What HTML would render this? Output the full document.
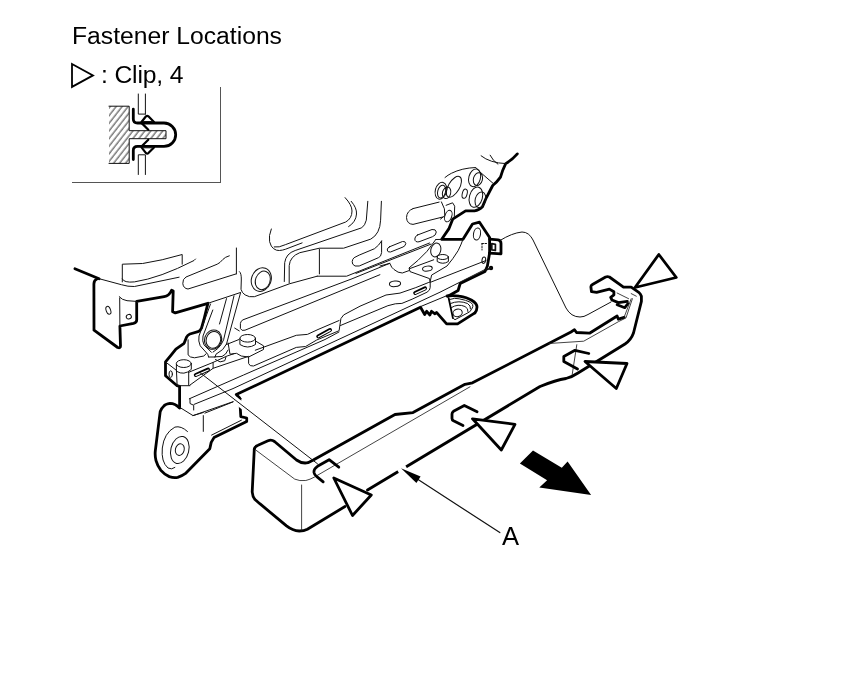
<!DOCTYPE html>
<html><head><meta charset="utf-8">
<style>
html,body{margin:0;padding:0;background:#fff;}
body{width:860px;height:696px;overflow:hidden;position:relative;font-family:"Liberation Sans",sans-serif;color:#000;}
svg{position:absolute;left:0;top:0;}
.t{position:absolute;white-space:nowrap;will-change:transform;font-size:24.7px;line-height:24px;}
.K{fill:none;stroke:#000;stroke-width:2.8;stroke-linejoin:round;stroke-linecap:round;}
.n{fill:none;stroke:#111;stroke-width:1;stroke-linejoin:round;stroke-linecap:round;}
.c{stroke-width:0.85;stroke:#222;}
.g{fill:none;stroke:#555;stroke-width:1;shape-rendering:crispEdges;}
</style></head><body>
<div class="t" id="t1" style="left:72px;top:24px;">Fastener Locations</div>
<div class="t" id="t2" style="left:101px;top:63px;letter-spacing:-0.15px;">: Clip, 4</div>
<div class="t" id="t3" style="left:501.8px;top:524px;font-size:25.6px;">A</div>
<svg width="860" height="696" viewBox="0 0 860 696">
<!-- LEGEND -->
<g id="legend">
<path class="g" d="M220.5 87V182.5H71.5"/>
<path d="M72 64L93 75.4L72 86.9Z" fill="none" stroke="#000" stroke-width="1.8" stroke-linejoin="miter"/>
<defs><pattern id="h" width="8" height="4.7" patternUnits="userSpaceOnUse" patternTransform="rotate(-52)"><line x1="-1" y1="2" x2="9" y2="2" stroke="#1a1a1a" stroke-width="0.9"/></pattern></defs>
<path d="M109 106.2H129.2V130.7H166V138.7H129.2V163.4H109Z" fill="url(#h)" stroke="none"/>
<path class="n" d="M109 106.2H129.2V130.7H166V138.7H129.2V163.4H109"/>
<path class="n" d="M138.3 94V114.1H145.4M145.4 94V114.1M138.3 174.5V154.8H145.4V174.5"/>
<path class="K" d="M133.3 109.2V119Q133.3 123 137.5 123H164A11.7 11.7 0 0 1 164 146.4H137.5Q133.3 146.4 133.3 150.5V159.6"/>
<path class="K" style="stroke-width:2.2" d="M141.5 122L146 116.3Q147.2 115.3 148.4 116.3L154 122M141.5 147.4L146 153.1Q147.2 154.1 148.4 153.1L154 147.4M141.7 123.1L148.3 129.7M141.7 146.3L148.3 139.7"/>
<path class="n" d="M143.5 121.5H152.5M143.5 147.8H152.5"/>
</g>
<!-- MAIN -->
<g id="main">


<!-- seat frame thick -->
<path class="K" d="M74.9 268.8L99.1 278.7"/>
<path class="K" d="M97 279Q94 280 93.9 284L94 330.2L117.7 347.5Q120.5 348.5 120.5 346L119.9 326L133.5 323.3Q136.7 322.5 136.7 320V301.4L164.2 296.7Q169 296 171.6 290.2L173.2 291L172.6 311.8L175.3 312.9L207.9 303.3L203.8 320L201.5 328.1Q200 331 198 331.6L189.9 334Q187.5 335 186.4 337.4L184.1 343.3L175.9 349.1L171.3 354.9L165.5 361.9V375.8L177.1 385.7L179.6 386.3V407.5"/>
<path class="K" d="M179.6 408Q175 403.5 170 403.4Q165.5 404 163.7 406.2Q161 408.5 160.2 411.7L155.3 450.8Q154.8 456 156 460.6Q157.5 466 160.9 470.3Q164.5 474.5 169.3 476.6Q173.5 478 177.7 477.3Q182 476 186 473.1L209.8 448.7L211.2 442.4L214 437.6L246.7 421.5V418L240.8 416.6L239.7 398L236.3 394.6L420.5 307.2L424.7 314.5L426.7 311.3L429.9 315L431.5 311.3L435 313.8L436.5 312.4L446.6 323.9H457.6L474.9 312.9"/>
<path class="K" d="M517.3 153.9Q512 160 505.7 163.6Q502.5 170 500.5 177.1Q497 182 492.7 185.5L486.3 197.8L482.4 206.9Q479 210.5 474.6 210.8H465.6L452.7 219.2L448.8 228.9L441.7 239.3H463L472.5 224L479.5 222.2L489.6 237.5V253.3"/>
<path class="K" d="M489.6 239.2L498 239.9Q501 240.5 501 243.5V253.8L489.6 253.2"/>
<path class="K" d="M489.6 253L487.4 266L485 271.5L460.2 283.5L458.1 290.5L448 296.3"/>
<circle cx="491" cy="268" r="2.2" fill="#000"/><path class="n" d="M486 270L491 268" style="stroke-width:1.6"/>
<path class="K" d="M447.1 296Q453 295 459.2 296.2Q467 297.5 471.7 300.3Q477 303.5 477 307.1Q477 310.5 474.9 312.9"/>
<path class="K" style="stroke-width:1.8" d="M448.7 298.3L452.9 318.1"/>

<!-- seat frame thin: left bracket area -->
<g class="n">
<path d="M122.3 281.9V264.2L142.6 263.5Q162 260.5 182.2 254.5V264.2"/>
<path d="M122.3 279Q124 283 134.4 281.9Q160 278 194 260.5L195.5 259"/>
<path d="M99.1 278.7L121.4 284.7Q128 286.8 134.4 286.5L179.1 277.2"/>
<path d="M119.2 296.7Q122 300 127 300.7L136.7 301.4M119.7 298L119.9 326"/>
<ellipse cx="108.4" cy="310.3" rx="2.2" ry="4.1" transform="rotate(-20 108.4 310.3)"/>
<ellipse cx="128.8" cy="316.7" rx="2.6" ry="2.2" transform="rotate(-20 128.8 316.7)"/>
<!-- slot bar -->
<path d="M229.3 255.8Q225 257 222.8 259.5Q220 263 217.2 264.2L186 277Q182.5 279 182.8 283.7Q183.5 288.5 188 289L235.8 274"/>
<path d="M236.4 248V274"/>
<path d="M239.5 271.6Q241.5 273 241.3 280L241 289.3Q242 293 245.1 294.9Q249 297.5 254.4 296.7L289.8 283.7L317.2 276.2"/>
<ellipse cx="261.3" cy="279.6" rx="9.8" ry="12" transform="rotate(20 261.3 279.6)"/>
<ellipse cx="262.8" cy="280.4" rx="7.3" ry="9.5" transform="rotate(20 262.8 280.4)"/>
<!-- lever arm -->
<path d="M207.9 303.3L240.5 292.5"/>
<path d="M210.5 304L199 336Q198 341 200.2 345.8L207.7 354.2L208.6 357"/>
<path d="M212.8 310L203 336Q202 341 204 344.9L211.4 352.3"/>
<ellipse cx="213.1" cy="339.6" rx="8.5" ry="9.8" transform="rotate(18 213.1 339.6)"/>
<ellipse cx="213.4" cy="339.8" rx="7.2" ry="8.5" transform="rotate(18 213.4 339.8)"/>
<path d="M240.5 293L226.5 344Q224 350 216 354.2L215 357"/>
<path d="M234 295.8L223.6 339.8Q221.5 345 217.8 348.5L213.1 352M226.5 298.6L219.5 324"/>
<path d="M208.6 357H215"/>
</g>

<!-- seat frame thin: corner block, ear, rails -->
<g class="n">
<ellipse cx="183.8" cy="363.6" rx="7.5" ry="3.9"/>
<path d="M176.4 364.2V371.2Q184 376 191.3 369.4V364.2"/>
<ellipse cx="170.7" cy="374.1" rx="1.7" ry="3.3"/>
<path d="M165.5 361.9L176.6 370.5M176.5 371.2L177.1 385M188.7 372.3V385.1M177.1 385.7H189.9M188.7 372.3L213.1 362.4V368.3L189.9 385.1"/>
<path d="M188.1 339.8V354.9Q189.5 357.5 194.5 357.8L203.8 356L206.2 353.7"/>
<path d="M213.1 362.4L227.1 356L234.1 353.7M215.5 359.5L220.1 361.9L224.8 360.7L225.9 357.2"/>
<path d="M215 356.8L222 356.5Q226 355 228.1 350"/>
<path d="M234.7 328.1L239.3 330.9M228.1 343L230 354.2L236.5 353.3L241.2 356L248.6 357"/>
<ellipse cx="247.7" cy="338.3" rx="7.8" ry="3.8"/>
<path d="M239.9 338.5V344.5Q247.7 349.5 255.5 344.5V338.5"/>
<path d="M255.5 341L263.5 345.8V349.5L248.6 357V363.5Q249.5 366.5 253.5 366L296.3 347.4L305.6 346.5L316.7 340L339.1 330.7L340.9 318.6L343.7 314.9L360 306.2L386 295L400 293.1L415.8 287.6L428.8 282.4L430.2 282"/>
<path d="M340.5 325.5L360 317.3L387.9 305.7L395.3 303.8L401.9 303.4L412.1 299.2L427 292.2Q430.2 290.3 430.2 287.5V282.4"/>
<path d="M255.3 350.2L296.3 335.3L307.4 334.4L318 329.5L339.1 320.5"/>
<!-- slot bar upper -->
<path d="M379.9 274.7L245 330.2Q241.5 331.3 240.4 328.5V323.5Q240.6 321 243 319.8L352 278.8L389.8 263.3"/>
<!-- long rail lines -->
<path d="M190 398.8V403.5L193.7 405.3V410"/>
<path d="M189.3 398.8L243.6 375L325 339.5L339 332"/>
<path d="M213.1 368.3L248.3 356.4M226.5 344.5L239 339.5"/>
<path d="M194 404.4L233 388.6L360 329.5L440 292.2L487 268.5"/>
<path d="M180 407.5L193 415.6L241.4 398.8"/>
<path d="M203.3 415.6V431.4M211.6 435.1L241.4 420.2M204.9 413.1L236.3 400.6"/>
<path d="M193 415.6L203.3 412.5"/>
<!-- ear circles -->
<ellipse cx="179.8" cy="449.6" rx="4.4" ry="5.9" transform="rotate(14 179.8 449.6)"/>
<ellipse cx="179.8" cy="450" rx="9" ry="13.8" transform="rotate(14 179.8 450)"/>
<path d="M187.5 431.5Q181 425.5 174.9 427.1Q164 433 162.3 448Q161 462 168 468Q171.5 470 174.9 467.5"/>
</g>
<path d="M195.8 375L208 369.6" fill="none" stroke="#000" stroke-width="4" stroke-linecap="round"/>
<path d="M196 375.4L208.2 370" fill="none" stroke="#fff" stroke-width="1.3" stroke-linecap="round"/>

<!-- seat frame thin: middle/right -->
<g class="n">
<!-- curved frame lines -->
<path d="M345.1 197.6Q352 205 352 211Q352 218.5 345.7 222L285.3 244.7Q279 247.8 274.2 247"/>
<path d="M271.3 229Q268.5 236 269.6 241.7Q271 247 273.6 248.7Q276.5 250.8 279.4 250.5Q282.5 250.3 285.3 249.3L302.1 242.9"/>
<path d="M351.2 201.3Q357 208 356.5 214Q356 222 348.6 226.6"/>
<path d="M367.8 201.3L366.3 220.2Q365 225.5 361.7 227.8L295.2 250.5Q286 253.5 284.7 262.6L284.3 281.5"/>
<path d="M381.4 201.3L380.6 220.2Q380 234 370.8 239.1L343.6 248.2H319.4L299.8 252.7Q290 256.5 289.2 265.6V283"/>
<path d="M319.4 249V273.9"/>
<!-- slots -->
<path d="M381.6 241V252.6Q381 257 378.4 257.7L359.2 266H355Q351.8 264.5 352.2 261.5Q352.5 259 354.1 257.7L359.2 255.1L374.5 248.7Q379 245.5 381.6 241"/>
<path d="M389.5 246.8L402.5 241.5Q405.5 241 405.8 243.5Q405.5 246 403 247L390.5 252Q387.5 252.5 387.2 250Q387.2 247.8 389.5 246.8Z"/>
<path d="M417.5 235L432 229.5Q436 229 436.3 232Q436 235.5 432.5 236.7L419 241.8Q415 242.5 414.8 239Q414.8 236.2 417.5 235Z"/>
<path d="M413 208.6L439.1 202.1M442.8 217L413 224.4Q406.8 224 406.5 217.5Q406.8 211 413 208.6"/>
<!-- long lines -->
<path d="M317.2 276.2H346.6L395 256.8L429.5 243"/>
<path d="M356 273.4L431 244.1"/>
<path d="M409.1 267.9Q418 261 427 251.3Q431 246 435.8 239.5"/>
<path d="M380 266L389.8 263.3Q391.5 268 394 269.5Q398 273 402.3 273L409.3 270.5"/>
<path d="M409.3 268.8L433.7 259.8M409.3 268.8L410 271.6L429.5 278.6L430.2 282.1"/>
<ellipse cx="427.4" cy="268.6" rx="4.9" ry="2.5" transform="rotate(-8 427.4 268.6)"/>
<ellipse cx="395" cy="283.8" rx="5.6" ry="2.8" transform="rotate(-5 395 283.8)"/>
<path d="M441.8 239.4L435.8 239.5M463 239.3Q461 245 458.1 250.7Q453 259 447 266L431.6 275.1L430.2 281.4"/>
<ellipse cx="435.8" cy="250" rx="4.9" ry="7" transform="rotate(15 435.8 250)"/>
<ellipse cx="442.8" cy="257" rx="5.6" ry="2.5"/>
<path d="M437.2 257V261.5Q442.8 265 448.4 261.5V257"/>
<ellipse cx="477" cy="234" rx="3.5" ry="6" transform="rotate(10 477 234)"/>
<ellipse cx="483.8" cy="260.2" rx="1.8" ry="3.2" transform="rotate(10 483.8 260.2)"/>
<path d="M482 243.5H487.4M482 243.5V250" stroke-dasharray="1.5 1.5"/>
<path d="M491.8 243.7L495.4 244.3V250.4L491.8 249.9Z" style="stroke-width:1.7"/>
<path d="M430.9 282.1L486 260.5"/>
<path d="M420.5 306.6L447 295.6"/>
<!-- bracket w/ bolts -->
<path d="M481.1 155.8Q490 163 505.7 163.6M490.1 155.2Q493 161 497.9 164.2"/>
<path d="M445 177.5Q448 175 451.4 173.3Q462 168 475.9 167.5L478.5 170.7L492.7 183"/>
<ellipse cx="440.9" cy="190.7" rx="5.6" ry="8.6" transform="rotate(15 440.9 190.7)"/>
<ellipse cx="441.6" cy="191.6" rx="3.9" ry="6.5" transform="rotate(15 441.6 191.6)"/>
<ellipse cx="446.6" cy="192.8" rx="4.1" ry="5.9" transform="rotate(15 446.6 192.8)"/>
<ellipse cx="453.9" cy="186.8" rx="5.6" ry="11.6" transform="rotate(30 453.9 186.8)"/>
<ellipse cx="474.6" cy="177.8" rx="5.8" ry="9" transform="rotate(15 474.6 177.8)"/>
<ellipse cx="477.9" cy="179.1" rx="4.5" ry="6.5" transform="rotate(15 477.9 179.1)"/>
<ellipse cx="475.9" cy="197.2" rx="6.5" ry="10.3" transform="rotate(15 475.9 197.2)"/>
<ellipse cx="480.4" cy="199.8" rx="5.2" ry="8" transform="rotate(15 480.4 199.8)"/>
<ellipse cx="464.7" cy="193.7" rx="2.4" ry="4.7" transform="rotate(15 464.7 193.7)"/>
<path d="M441.4 201.9L444.4 208.8L444.8 215.7L440.5 219.1"/>
<path d="M446.1 205.3L452.6 202.8L454.7 206.2L454.3 216.6"/>
<ellipse cx="448.3" cy="216.1" rx="3.4" ry="6" transform="rotate(20 448.3 216.1)"/>
<!-- round thing inner -->
<path d="M449.5 299.5Q455 297.5 459.2 298.8Q466 300 470.7 302.4Q473.5 304.5 472.8 306.6Q472 309.5 469.6 311.9L455 319.7L452.9 318.1"/>
<ellipse cx="457.6" cy="312.9" rx="4.7" ry="3.7" transform="rotate(-15 457.6 312.9)"/>
<path d="M451.5 307.5Q458 303.5 465 306.5Q468.5 308.5 468 311.5"/>
<path d="M450.5 303.5Q459 300 467.5 303.5Q471 305.5 470.5 309"/>
</g>
<path d="M318.2 336.4L330 330" fill="none" stroke="#000" stroke-width="4" stroke-linecap="round"/>
<path d="M318.4 336.8L330.2 330.4" fill="none" stroke="#fff" stroke-width="1.3" stroke-linecap="round"/>
<path d="M415.2 293L425 288.4" fill="none" stroke="#000" stroke-width="4" stroke-linecap="round"/>
<path d="M415.4 293.4L425.2 288.8" fill="none" stroke="#fff" stroke-width="1.3" stroke-linecap="round"/>
<!-- cover (part A) thick outline -->
<path class="K" d="M254.3 449Q254.8 446.5 258 445.2L268 440.7Q271.5 439.3 274.5 441.5L296.5 460Q302 464 308 462.7L313.3 460L395 414.5L413 412.6L465 384.3L472.5 382.8L571 332L574.5 329.7L576.5 332.5L589.5 333.2L617.1 316L618.4 319.2L624.1 317.3"/>
<path class="K" d="M254.3 449L252.2 492Q252.5 496.5 255 499.5L259.8 503.7L286.5 525.8Q292.5 530.5 299.3 531Q304 531 307.4 529.3L345 506.5"/>
<path class="K" d="M367.5 490L540 386.5Q556 380 566 378.5Q572 377 578 373L625 344Q631 340 633.5 333L641.4 301.3V296.2Q640.5 293.5 638.8 292.3L631.2 287.2H623.5L609.4 277Q607.5 276.3 605.6 277L592.5 284.5Q590.8 285.5 590.9 287L591.5 291.7L596.6 292.3L609.4 289.1L613.9 291.7V294.9L610.7 297.4L612 300L618.4 302.6L627.3 301.3"/>
<path class="K" d="M617.1 304.8L624.8 307.7L628 303.5"/>
<path class="n c" d="M624.1 317.3L631.2 298.7M617.1 293L628.6 298.7M631.2 293.6L636.3 296.2"/>

<!-- cover thin -->
<path class="n c" d="M256 450.2L294.7 479.1Q299.5 481.3 305.8 480.5Q310 479.5 314.2 477.2L470 386.8"/>
<path class="n c" d="M301.6 485V530"/>
<path class="n c" d="M549 343.5L583.7 341.2L618.4 321.7L626 317.9L632.4 298.7"/>
<path class="n c" d="M576.8 344.7L572.2 374.6"/>
<path class="n" d="M500 240.5Q512 233 522 232Q529 232 533 240L566 308Q571 317 580 317Q584 317 588 314.5L611 302"/>
<path d="M235 399.8L245 407.6" stroke="#fff" stroke-width="6.5" fill="none"/>
<path class="n" d="M200.3 372.9L317.5 463.8"/>
<!-- hooks -->
<path class="K" d="M338.8 467.2L329.1 459.7L317.5 466.3Q313.5 469 314 472.5Q314.5 475 316.5 476.3L323.2 481.8"/>
<path class="K" d="M477.1 411.7L464.3 405.5L453.5 411.3Q452 412.5 452 414V418.5Q452 420 453.5 420.8L463 425.6"/>
<path class="K" d="M588.8 353.5L575 350.3L563.8 356.5V361.5L577.5 369"/>
<!-- triangles -->
<path class="K" style="stroke-linejoin:round;fill:#fff" d="M333.8 478L371.3 495L352.5 515.5Z"/>
<path class="K" style="stroke-linejoin:round;fill:#fff" d="M472.5 418.8L515 424.3L501.3 450Z"/>
<path class="K" style="stroke-linejoin:round;fill:#fff" d="M585 361.5L627 363.5L616.3 388.5Z"/>
<path class="K" style="stroke-linejoin:round;fill:#fff" d="M635 287.5L658.8 254.5L676.3 277.5Z"/>
<!-- black arrow -->
<path d="M533 450.5L561.8 467.7L567.6 461.5L591.1 494.9L539.3 487.6L547.1 480.3L519.9 463.5Z" fill="#000"/>
<!-- leader A -->
<path d="M398.3 471.8L406.3 467.2" stroke="#fff" stroke-width="5" fill="none"/>
<path class="n" style="stroke-width:1.2" d="M499.8 532.6L415 477.5"/>
<path d="M401 468.3L420.6 476.4L416.4 482.9Z" fill="#000"/>
</g>
</svg>
</body></html>
